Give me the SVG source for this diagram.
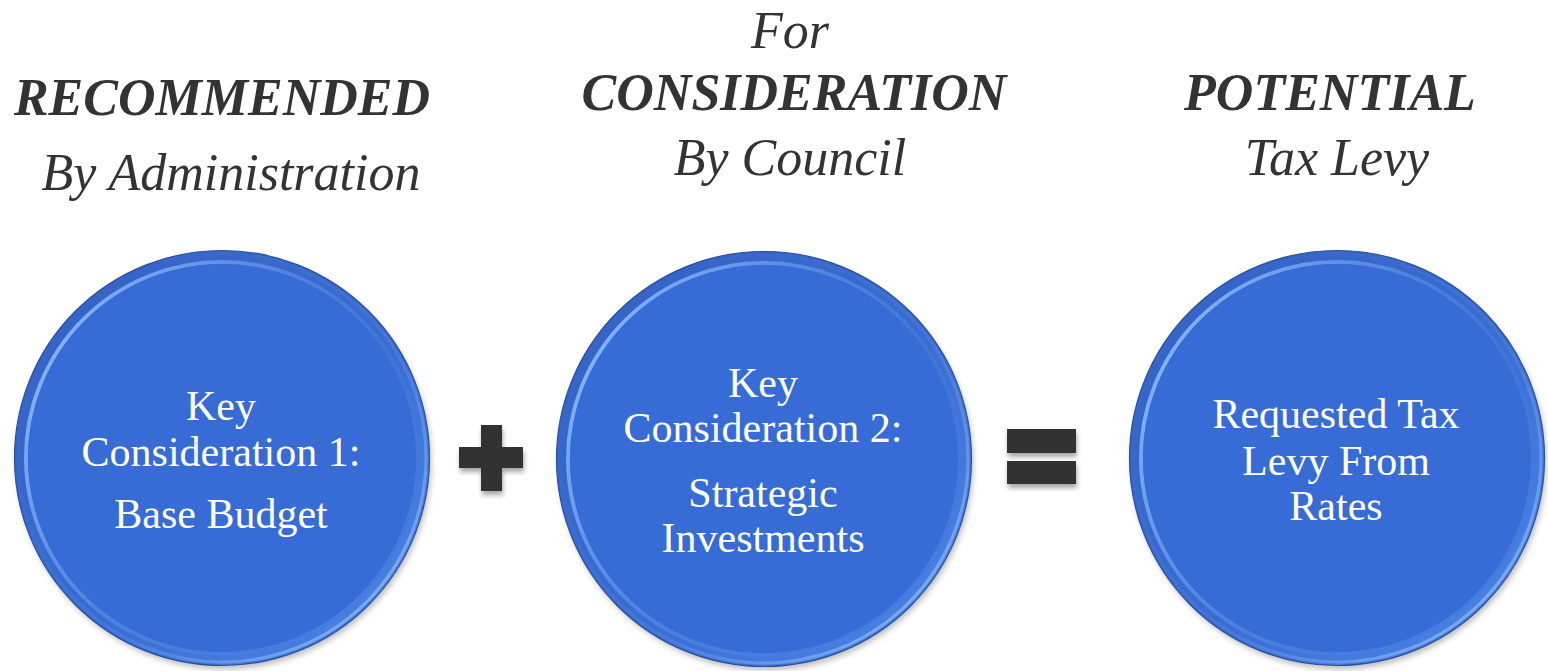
<svg xmlns="http://www.w3.org/2000/svg" width="1548" height="671" viewBox="0 0 1548 671">
  <defs>
    <style>
      .head { font-family: "Liberation Serif", "Times New Roman", serif; font-size: 52px; fill: #333333; text-anchor: middle; font-style: italic; }
      .bold { font-weight: bold; }
      .label { font-family: "Liberation Serif", "Times New Roman", serif; font-size: 42px; fill: #ffffff; text-anchor: middle; }
      .op { fill: #333333; filter: url(#opShadow); }
    </style>
    <linearGradient id="rimGrad" x1="0" y1="0" x2="1" y2="1">
      <stop offset="0" stop-color="#3462c2"/>
      <stop offset="0.55" stop-color="#3a6cd2"/>
      <stop offset="1" stop-color="#5089ea"/>
    </linearGradient>
    <linearGradient id="innerHi" x1="0" y1="0.2" x2="1" y2="0.8">
      <stop offset="0" stop-color="#8cbcff" stop-opacity="1"/>
      <stop offset="0.45" stop-color="#6a9cf2" stop-opacity="0.45"/>
      <stop offset="1" stop-color="#3a6cd2" stop-opacity="0.15"/>
    </linearGradient>
    <linearGradient id="outerHi" x1="0" y1="0" x2="1" y2="1">
      <stop offset="0" stop-color="#2f5bb8" stop-opacity="0"/>
      <stop offset="0.6" stop-color="#6aa0f0" stop-opacity="0.25"/>
      <stop offset="1" stop-color="#a4d0ff" stop-opacity="0.95"/>
    </linearGradient>
    <filter id="discShadow" x="-10%" y="-10%" width="120%" height="120%">
      <feGaussianBlur stdDeviation="3"/>
    </filter>
    <filter id="opShadow" x="-20%" y="-20%" width="150%" height="150%">
      <feGaussianBlur in="SourceAlpha" stdDeviation="2.5"/>
      <feOffset dx="1" dy="4" result="b"/>
      <feComponentTransfer><feFuncA type="linear" slope="0.35"/></feComponentTransfer>
      <feMerge><feMergeNode/><feMergeNode in="SourceGraphic"/></feMerge>
    </filter>
    <!-- bevelled blue disc, centred on the origin -->
    <g id="disc">
      <circle cx="2" cy="4" r="207" fill="#000" opacity="0.28" filter="url(#discShadow)"/>
      <circle r="207.5" fill="url(#rimGrad)" stroke="#2b4f9c" stroke-width="1.2"/>
      <circle r="204" fill="none" stroke="url(#outerHi)" stroke-width="3"/>
      <circle r="196" fill="none" stroke="url(#innerHi)" stroke-width="4"/>
      <circle r="194" fill="#376bd5"/>
    </g>
  </defs>

  <rect width="1548" height="671" fill="#ffffff"/>

  <!-- column headings -->
  <g id="heading-recommended">
    <text class="head bold" x="222" y="115">RECOMMENDED</text>
    <text class="head" x="231" y="190">By Administration</text>
  </g>
  <g id="heading-consideration">
    <text class="head" x="790" y="48">For</text>
    <text class="head bold" x="794" y="110">CONSIDERATION</text>
    <text class="head" x="790" y="175">By Council</text>
  </g>
  <g id="heading-potential">
    <text class="head bold" x="1330" y="110">POTENTIAL</text>
    <text class="head" x="1337" y="175">Tax Levy</text>
  </g>

  <!-- circles -->
  <g id="node-base-budget">
    <use href="#disc" x="222" y="458"/>
    <text class="label" x="221" y="420">Key</text>
    <text class="label" x="221" y="466">Consideration 1:</text>
    <text class="label" x="221" y="528">Base Budget</text>
  </g>
  <g id="node-strategic">
    <use href="#disc" x="764" y="459"/>
    <text class="label" x="763" y="397">Key</text>
    <text class="label" x="763" y="442">Consideration 2:</text>
    <text class="label" x="763" y="507">Strategic</text>
    <text class="label" x="763" y="552">Investments</text>
  </g>
  <g id="node-tax-levy">
    <use href="#disc" x="1337" y="458"/>
    <text class="label" x="1336" y="428">Requested Tax</text>
    <text class="label" x="1336" y="475">Levy From</text>
    <text class="label" x="1336" y="520">Rates</text>
  </g>

  <!-- operators between the circles -->
  <g id="connectors">
    <path class="op" d="M481 425 H502 V447 H523 V468 H502 V491 H481 V468 H459 V447 H481 Z"/>
    <g class="op">
      <rect x="1007" y="429" width="69" height="24"/>
      <rect x="1007" y="461" width="69" height="23"/>
    </g>
  </g>
</svg>
